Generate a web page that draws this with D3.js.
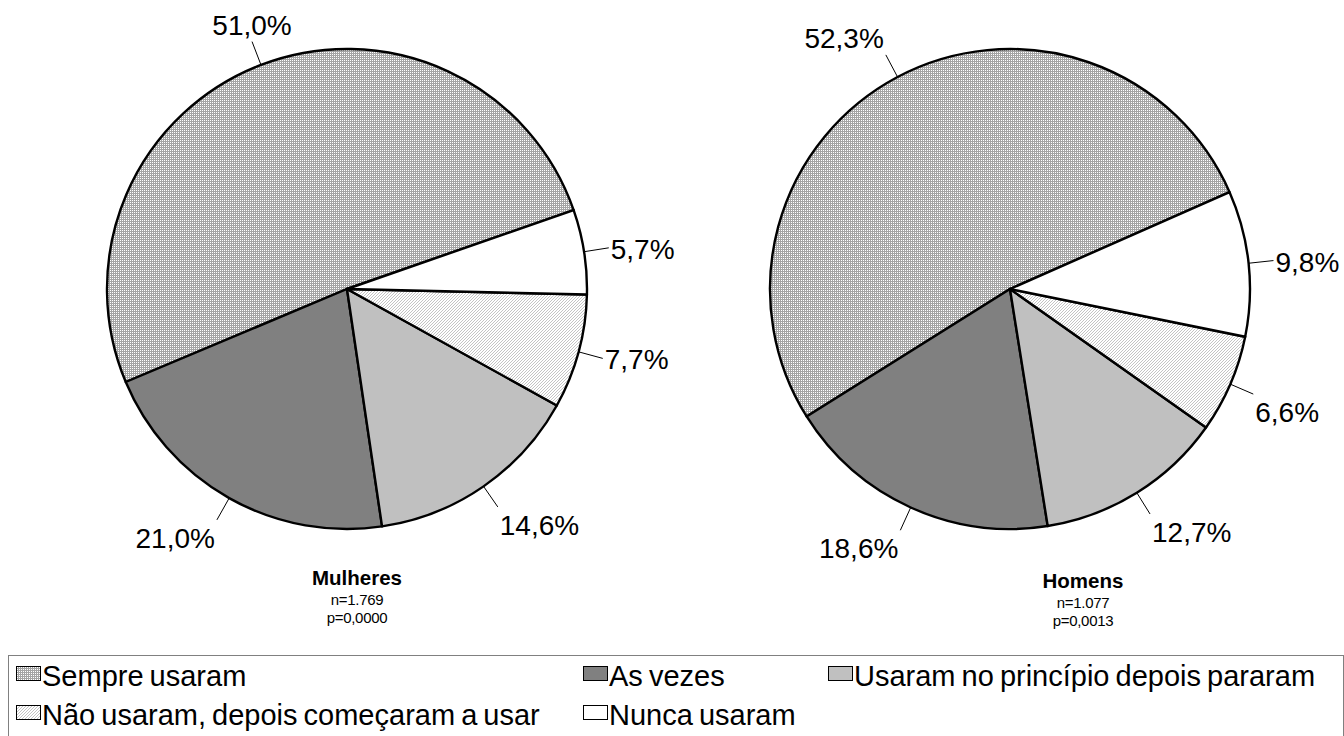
<!DOCTYPE html>
<html><head><meta charset="utf-8">
<script src="https://cdn.jsdelivr.net/npm/d3@7"></script>
<style>body{margin:0;background:#fff}svg{display:block}text{font-family:"Liberation Sans",Arial,sans-serif;fill:#000}</style>
</head><body><svg id="c" width="1344" height="736"></svg>
<script>
const categories = ["Sempre usaram","As vezes","Usaram no princípio depois pararam","Não usaram, depois começaram a usar","Nunca usaram"];
const mulheres = [51.0, 21.0, 14.6, 7.7, 5.7];
const homens = [52.3, 18.6, 12.7, 6.6, 9.8];
const groupNames = ["Mulheres","Homens"];
const nLabels = ["n=1.769","n=1.077"];
const pLabels = ["p=0,0000","p=0,0013"];

const svg = d3.select("#c");
const defs = svg.append("defs");
const p1 = defs.append("pattern").attr("id","pSempre").attr("patternUnits","userSpaceOnUse").attr("width",2).attr("height",2);
p1.append("rect").attr("width",2).attr("height",2).attr("fill","#fff");
p1.append("rect").attr("width",2).attr("height",1).attr("fill","#a4a4a4");
p1.append("rect").attr("width",1).attr("height",2).attr("fill","#a4a4a4");
const p2 = defs.append("pattern").attr("id","pNao").attr("patternUnits","userSpaceOnUse").attr("width",3).attr("height",3);
p2.append("rect").attr("width",3).attr("height",3).attr("fill","#fff");
p2.append("path").attr("d","M-1,1L1,-1M0,3L3,0M2,4L4,2").attr("stroke","#c4c4c4").attr("stroke-width",1);

const fills = d3.scaleOrdinal().domain(categories)
  .range(["url(#pSempre)","#808080","#c0c0c0","url(#pNao)","#ffffff"]);

const fmt = d3.formatLocale({decimal:",",thousands:".",grouping:[3],currency:["",""]}).format(".1f");

const layout = [
  {cx:347, cy:289, r:240, rot:70.8, tx:357, ty:585, values:mulheres},
  {cx:1010, cy:289, r:240, rot:66.2, tx:1083, ty:588, values:homens}
];
const rad = Math.PI/180;

layout.forEach((L, gi) => {
  const pie = d3.pie().sort(null).value(d => d.v)
    .startAngle(L.rot*rad).endAngle(L.rot*rad - 2*Math.PI);
  const arcs = pie(categories.map((c,i)=>({c, v:L.values[i]})));
  const arc = d3.arc().innerRadius(0).outerRadius(L.r);
  const g = svg.append("g").attr("transform",`translate(${L.cx},${L.cy})`);
  g.selectAll("path.s").data(arcs).join("path").attr("class","s")
    .attr("d",arc).attr("fill",d=>fills(d.data.c))
    .attr("stroke","#000").attr("stroke-width",2.4).attr("stroke-linejoin","round");
  arcs.forEach(d => {
    const a = (d.startAngle + d.endAngle)/2;
    const s = Math.sin(a), c = Math.cos(a);
    const r0 = L.r, r1 = L.r + 25;
    const ex = r1*s, ey = -r1*c;
    g.append("line").attr("x1",r0*s).attr("y1",-r0*c).attr("x2",ex).attr("y2",ey)
      .attr("stroke","#000").attr("stroke-width",1);
    let anchor, x = ex, y;
    if (Math.abs(s) < 0.4) { anchor = "middle"; }
    else if (s > 0) { anchor = "start"; x = ex + 2; }
    else { anchor = "end"; x = ex - 2; }
    if (Math.abs(c) < 0.35) y = ey + 11;
    else if (c < 0) y = ey + 28;
    else y = ey - 7;
    g.append("text").attr("x",x).attr("y",y).attr("text-anchor",anchor)
      .attr("font-size",28).text(fmt(d.data.v)+"%");
  });
  svg.append("text").attr("x",L.tx).attr("y",L.ty).attr("text-anchor","middle")
    .attr("font-size",20.5).attr("font-weight","bold").text(groupNames[gi]);
  svg.append("text").attr("x",L.tx).attr("y",L.ty+20).attr("text-anchor","middle")
    .attr("font-size",15).attr("letter-spacing",-0.3).text(nLabels[gi]);
  svg.append("text").attr("x",L.tx).attr("y",L.ty+38).attr("text-anchor","middle")
    .attr("font-size",15).attr("letter-spacing",-0.3).text(pLabels[gi]);
});

// legend
svg.append("rect").attr("x",8.5).attr("y",655.5).attr("width",1335).attr("height",120)
  .attr("fill","none").attr("stroke","#808080").attr("stroke-width",1);
const colX = [16, 583, 828];
const rowY = [686, 725];
categories.forEach((c,i) => {
  const col = i < 3 ? i : i - 3, row = i < 3 ? 0 : 1;
  const x = colX[col], y = rowY[row];
  svg.append("rect").attr("x",x+0.5).attr("y",y-19.5).attr("width",24).attr("height",14)
    .attr("fill",fills(c)).attr("stroke","#000").attr("stroke-width",1);
  svg.append("text").attr("x",x+26).attr("y",y).attr("font-size",29).attr("word-spacing",-2).text(c);
});
</script></body></html>
